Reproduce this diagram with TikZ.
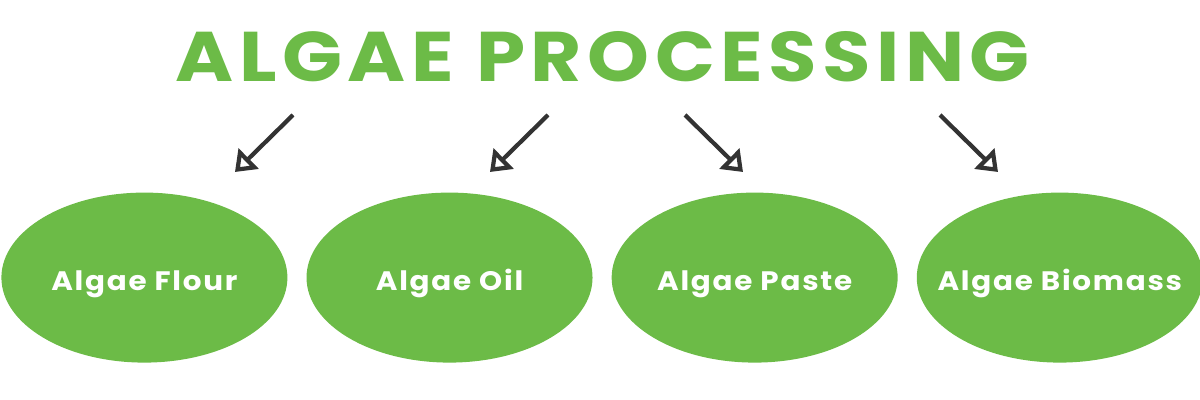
\documentclass[tikz,border=0pt]{standalone}
\usepackage{fontspec}
\setmainfont{Poppins}
\usetikzlibrary{positioning,shapes,arrows.meta}
\definecolor{algaegreen}{HTML}{6CBB47}
\definecolor{arrowgray}{HTML}{333333}
\tikzset{every picture/.style={line width=0.8pt}}

\begin{document}
\begin{tikzpicture}[node distance=0.45cm, auto,
    product/.style={ellipse, fill=algaegreen, minimum width=7.15cm, minimum height=4.25cm},
    tag/.style={text=white, anchor=base, yshift=-0.33cm, xscale=1.1, transform shape, font=\fontsize{19}{23}\selectfont\bfseries\addfontfeature{LetterSpace=6}},
    flow/.style={-{Triangle[open, length=0.48cm, width=0.7cm]}, draw=arrowgray, line width=3pt}]
    \useasboundingbox (0,0) rectangle (30,10);

    % Title
    \node[text=algaegreen, anchor=base, xscale=1.12, transform shape, font=\fontsize{50}{60}\selectfont\bfseries\addfontfeature{LetterSpace=7}] (title) at (15.07,7.95) {ALGAE PROCESSING};

    % Algae Flour
    \node[product] (flour) at (3.61,3.06) {};
    \node[tag] (flourtext) at (flour.center) {Algae Flour};

    % Algae Oil
    \node[product, right=of flour] (oil) {};
    \node[tag] (oiltext) at (oil.center) {Algae Oil};

    % Algae Paste
    \node[product, right=of oil] (paste) {};
    \node[tag] (pastetext) at (paste.center) {Algae Paste};

    % Algae Biomass
    \node[product, right=of paste] (biomass) {};
    \node[tag] (biomasstext) at (biomass.center) {Algae Biomass};

    % Arrow ends
    \coordinate (s1) at (7.325,7.125);
    \coordinate (e1) at (5.875,5.7);
    \coordinate (s2) at (13.7,7.125);
    \coordinate (e2) at (12.25,5.7);
    \coordinate (s3) at (17.125,7.125);
    \coordinate (e3) at (18.575,5.7);
    \coordinate (s4) at (23.5,7.125);
    \coordinate (e4) at (24.95,5.7);

    % Connections
    \draw[flow] (s1) -- (e1);
    \draw[flow] (s2) -- (e2);
    \draw[flow] (s3) -- (e3);
    \draw[flow] (s4) -- (e4);
\end{tikzpicture}
\end{document}
